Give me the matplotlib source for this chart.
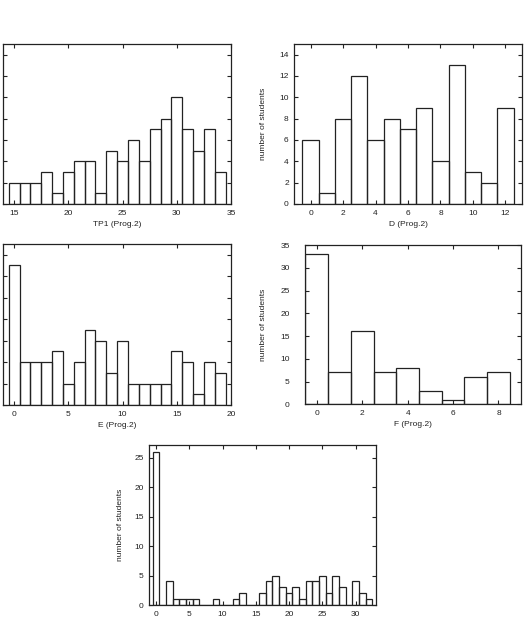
import numpy as np
import matplotlib
matplotlib.use("Agg")
import matplotlib.pyplot as plt

plt.rcParams['font.family'] = ['Liberation Sans', 'DejaVu Sans']
plt.rcParams['font.size'] = 6

# histogram counts
tp1_bins = list(range(15, 35))
tp1_counts = [2, 2, 2, 3, 1, 3, 4, 4, 1, 5, 4, 6, 4, 7, 8, 10, 7, 5, 7, 3]

d_bins = list(range(0, 13))
d_counts = [6, 1, 8, 12, 6, 8, 7, 9, 4, 13, 3, 2, 9]

e_bins = list(range(0, 20))
e_counts = [13, 4, 4, 4, 5, 2, 4, 7, 6, 3, 6, 2, 2, 2, 2, 5, 4, 1, 4, 3]

f_bins = list(range(0, 9))
f_counts = [33, 7, 16, 7, 8, 3, 1, 6, 7]

g_bins = list(range(0, 33))
g_counts = [26, 0, 4, 1, 1, 1, 1, 0, 0, 1, 0, 0, 1, 2, 0, 0, 2, 4, 5, 3,
            2, 3, 1, 4, 4, 5, 2, 5, 3, 0, 4, 2, 1]

W, H = 529, 619
INK = '#222222'


def make_ax(fig, left, right, top, bottom):
    return fig.add_axes([left / W, 1 - bottom / H, (right - left) / W, (bottom - top) / H])


def hist_panel(ax, bins, counts, xlim, ylim, xticks, yticks, xlabel=None,
               ylabel=None, ylabel_x=None, ypad=4, show_ylabels=True):
    ax.bar(bins, counts, width=1.0, fill=False, edgecolor=INK, linewidth=0.9)
    ax.set_xlim(*xlim)
    ax.set_ylim(*ylim)
    ax.set_xticks(xticks)
    ax.set_yticks(yticks)
    ax.tick_params(direction='in', top=True, right=True, length=3, width=0.8,
                   pad=4, colors=INK)
    ax.tick_params(axis='y', pad=ypad, labelleft=show_ylabels)
    for s in ax.spines.values():
        s.set_linewidth(0.9)
        s.set_color(INK)
    if xlabel:
        ax.set_xlabel(xlabel, labelpad=3, color=INK)
    if ylabel:
        ax.set_ylabel(ylabel, color=INK)
        ax.yaxis.set_label_coords(ylabel_x, 0.5)


fig = plt.figure(figsize=(W / 100, H / 100), dpi=100)

# left column is cropped in the original: no y tick labels visible
ax1 = make_ax(fig, 3.3, 231, 44, 204)
hist_panel(ax1, tp1_bins, tp1_counts, (14, 35), (0, 15), [15, 20, 25, 30, 35],
           range(0, 15, 2), xlabel='TP1 (Prog.2)', show_ylabels=False)

ax2 = make_ax(fig, 294.3, 521.7, 44, 204)
hist_panel(ax2, d_bins, d_counts, (-1, 13), (0, 15), range(0, 13, 2),
           range(0, 15, 2), xlabel='D (Prog.2)', ylabel='number of students',
           ylabel_x=-0.122, ypad=4)

ax3 = make_ax(fig, 3.3, 231, 244, 405)
hist_panel(ax3, e_bins, e_counts, (-1, 20), (0, 15), [0, 5, 10, 15, 20],
           range(0, 15, 2), xlabel='E (Prog.2)', show_ylabels=False)

ax4 = make_ax(fig, 305, 520.7, 245, 404.3)
hist_panel(ax4, f_bins, f_counts, (-0.52, 8.98), (0, 35), range(0, 9, 2),
           range(0, 36, 5), xlabel='F (Prog.2)', ylabel='number of students',
           ylabel_x=-0.178, ypad=11)

ax5 = make_ax(fig, 149.3, 375.7, 445, 605)
hist_panel(ax5, g_bins, g_counts, (-1, 33), (0, 27.2), range(0, 31, 5),
           range(0, 26, 5), ylabel='number of students',
           ylabel_x=-0.112, ypad=4)

fig.savefig('out.png', dpi=100)
